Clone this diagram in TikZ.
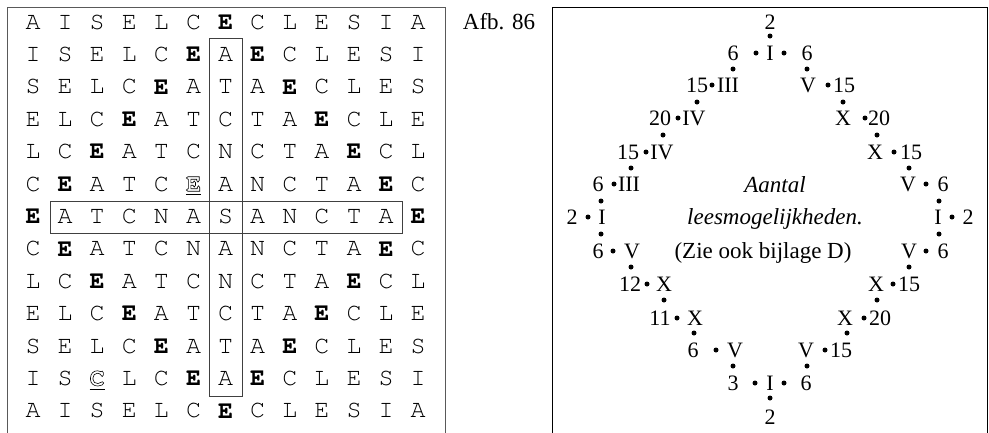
\documentclass[tikz,border=0pt]{standalone}
\usepackage{fontspec}
\setmainfont{Liberation Serif}
\newfontfamily\gridfont{texgyrecursor}[Extension=.otf, UprightFont=*-regular, BoldFont=*-bold]
\newcommand{\vet}[1]{\textbf{#1}}
\newcommand{\omtrek}[1]{\special{pdf:literal 1 Tr 0.6 w}\textbf{#1}\special{pdf:literal 0 Tr 0.4 w}}

\tikzset{
  letter/.style={inner sep=0pt, font=\gridfont\fontsize{25}{29}\selectfont},
  num/.style={inner sep=0pt, font=\fontsize{22}{26}\selectfont},
  note/.style={inner sep=0pt, font=\fontsize{23}{27}\selectfont},
  caption/.style={inner sep=0pt, font=\fontsize{23}{27}\selectfont},
  dot/.style={circle, fill, inner sep=0pt, minimum size=5pt},
  frame/.style={line width=1pt},
  wordbox/.style={line width=0.8pt, black!75},
  underl/.style={line width=1.4pt}
}

\begin{document}
\begin{tikzpicture}[x=1pt, y=-1pt]
\useasboundingbox (0,0) rectangle (989,432);

% the two panels
\draw[frame, black!65] (7,440) -- (7,7) -- (445,7) -- (445,440);
\draw[frame] (552,440) -- (552,7) -- (987.5,7) -- (987.5,440);

% letter square
\foreach \row [count=\r] in {
  {A,I,S,E,L,C,\vet{E},C,L,E,S,I,A},
  {I,S,E,L,C,\vet{E},A,\vet{E},C,L,E,S,I},
  {S,E,L,C,\vet{E},A,T,A,\vet{E},C,L,E,S},
  {E,L,C,\vet{E},A,T,C,T,A,\vet{E},C,L,E},
  {L,C,\vet{E},A,T,C,N,C,T,A,\vet{E},C,L},
  {C,\vet{E},A,T,C,\omtrek{E},A,N,C,T,A,\vet{E},C},
  {\vet{E},A,T,C,N,A,S,A,N,C,T,A,\vet{E}},
  {C,\vet{E},A,T,C,N,A,N,C,T,A,\vet{E},C},
  {L,C,\vet{E},A,T,C,N,C,T,A,\vet{E},C,L},
  {E,L,C,\vet{E},A,T,C,T,A,\vet{E},C,L,E},
  {S,E,L,C,\vet{E},A,T,A,\vet{E},C,L,E,S},
  {I,S,\omtrek{C},L,C,\vet{E},A,\vet{E},C,L,E,S,I},
  {A,I,S,E,L,C,\vet{E},C,L,E,S,I,A}}
  \foreach \ch [count=\c] in \row
    \node[letter] (l\r-\c) at ({33+32.1*(\c-1)}, {22+32.4*(\r-1)}) {\ch};

% underlined outline letters
\draw[underl] ([yshift=-3pt]l6-6.south west) -- ([yshift=-3pt]l6-6.south east);
\draw[underl] ([yshift=-3pt]l12-3.south west) -- ([yshift=-3pt]l12-3.south east);

% the two words
\draw[wordbox] (209,38.5) rectangle (242,396.5);
\draw[wordbox] (50,201) rectangle (402,233);

\node[caption, anchor=base] (afb) at (499,29) {Afb. 86};

% numerals and counts
\foreach \x/\y/\t [count=\i] in {
  770/22/2,
  733/53/6, 770/53/I, 807/53/6,
  697/85/15, 728/85/III, 808/85/V, 844/85/15,
  660/118/20, 694/118/IV, 843/118/X, 879/118/20,
  628/152/15, 662/152/IV, 875/152/X, 911/152/15,
  598/184/6, 629/184/III, 908/184/V, 943/184/6,
  572/217/2, 602/217/I, 938/217/I, 968/217/2,
  598/251/6, 632/251/V, 909/251/V, 943/251/6,
  630/284/12, 664/284/X, 876/284/X, 909/284/15,
  660/318/11, 695/318/X, 845/318/X, 880/318/20,
  693/350/6, 735/350/V, 806/350/V, 841/350/15,
  733/383/3, 770/383/I, 806/383/6,
  770/417/2}
  \node[num] (n\i) at (\x,\y) {\t};

\foreach \x/\y [count=\i] in {
  770/36, 756/53, 784/53, 733/69, 807/69,
  712/85, 828/85, 697/102, 843/102,
  678/118, 865/118, 663/135, 877/135,
  646/152, 894/152, 631/168, 909/168,
  614/184, 926/184, 601/201, 939/201,
  588/217, 952/217, 601/234, 939/234,
  613/251, 926/251, 631/267, 909/267,
  647/284, 893/284, 664/300, 877/300,
  677/318, 864/318, 694/333, 847/333,
  716/350, 825/350, 733/366, 807/366,
  755/383, 784/383, 770/398}
  \node[dot] (d\i) at (\x,\y) {};

\node[note, anchor=base] (aantal) at (775,192) {\textit{Aantal}};
\node[note, anchor=base] (lees) at (775,224) {\textit{leesmogelijkheden.}};
\node[note, anchor=base] (zie) at (763,258) {(Zie ook bijlage D)};
\end{tikzpicture}
\end{document}
